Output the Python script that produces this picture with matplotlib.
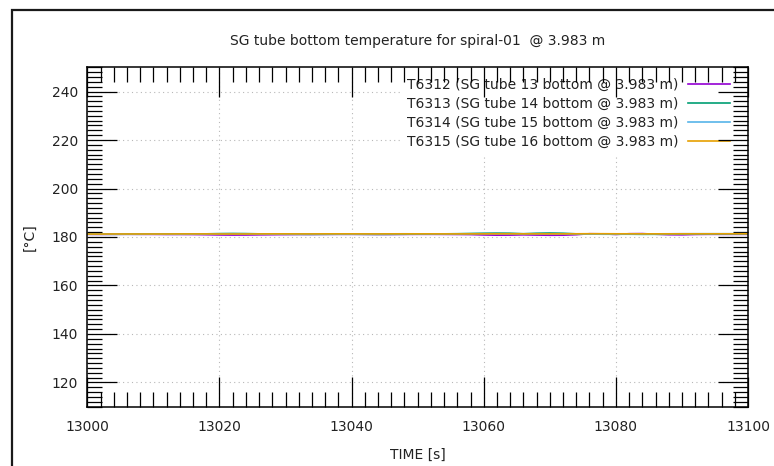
import matplotlib
matplotlib.use("Agg")
import matplotlib.pyplot as plt
from matplotlib.patches import Rectangle
from matplotlib.ticker import MultipleLocator
import numpy as np

plt.rcParams['font.family'] = ['DejaVu Sans']

# --- data -------------------------------------------------------------
time_s = list(range(13000, 13101, 2))

t6312 = [181.10, 181.08, 181.10, 181.12, 181.10, 181.08, 181.05, 181.05, 181.02, 180.95,
         180.85, 180.80, 180.82, 180.90, 180.95, 181.00, 181.05, 181.05, 181.08, 181.10,
         181.10, 181.08, 181.05, 181.05, 181.08, 181.10, 181.10, 181.08, 181.05, 181.00,
         180.85, 180.75, 180.78, 180.90, 180.80, 180.72, 180.75, 180.95, 181.35, 181.30,
         181.05, 181.35, 181.40, 181.15, 180.95, 180.90, 181.05, 181.10, 181.10, 181.10,
         181.10]
t6313 = [181.15, 181.15, 181.12, 181.15, 181.15, 181.18, 181.20, 181.20, 181.25, 181.30,
         181.40, 181.45, 181.40, 181.30, 181.20, 181.15, 181.12, 181.10, 181.12, 181.15,
         181.15, 181.12, 181.10, 181.12, 181.15, 181.20, 181.25, 181.30, 181.35, 181.45,
         181.55, 181.60, 181.55, 181.35, 181.55, 181.65, 181.55, 181.30, 181.20, 181.15,
         181.15, 181.15, 181.10, 181.12, 181.15, 181.20, 181.25, 181.25, 181.30, 181.30,
         181.30]
t6314 = [181.20, 181.18, 181.20, 181.22, 181.20, 181.18, 181.15, 181.15, 181.18, 181.20,
         181.22, 181.25, 181.22, 181.20, 181.18, 181.20, 181.22, 181.25, 181.25, 181.22,
         181.20, 181.22, 181.25, 181.30, 181.32, 181.30, 181.28, 181.25, 181.25, 181.30,
         181.35, 181.35, 181.30, 181.28, 181.32, 181.35, 181.30, 181.25, 181.20, 181.20,
         181.22, 181.25, 181.25, 181.30, 181.32, 181.35, 181.35, 181.35, 181.35, 181.35,
         181.35]
t6315 = [181.22, 181.22, 181.25, 181.25, 181.25, 181.25, 181.25, 181.28, 181.28, 181.28,
         181.25, 181.25, 181.25, 181.28, 181.30, 181.30, 181.28, 181.28, 181.30, 181.30,
         181.30, 181.28, 181.28, 181.30, 181.30, 181.30, 181.30, 181.28, 181.28, 181.30,
         181.30, 181.32, 181.32, 181.30, 181.30, 181.30, 181.30, 181.32, 181.35, 181.35,
         181.32, 181.32, 181.30, 181.30, 181.30, 181.32, 181.32, 181.32, 181.32, 181.32,
         181.32]

series_labels = [
    "T6312 (SG tube 13 bottom @ 3.983 m)",
    "T6313 (SG tube 14 bottom @ 3.983 m)",
    "T6314 (SG tube 15 bottom @ 3.983 m)",
    "T6315 (SG tube 16 bottom @ 3.983 m)",
]
series_colors = ["#9400d3", "#009e73", "#56b4e9", "#e69f00"]

x_ticks = [13000, 13020, 13040, 13060, 13080, 13100]
y_ticks = [120, 140, 160, 180, 200, 220, 240]

# --- figure -----------------------------------------------------------
fig = plt.figure(figsize=(7.74, 4.66), dpi=100)
ax = fig.add_axes([87.3 / 774, 1 - 406.7 / 466, (748 - 87.3) / 774, (406.7 - 67.3) / 466])

# outer window frame
fig.patches.append(Rectangle((11.5 / 774, -0.2), 1.2, 1.2 - 10 / 466,
                             transform=fig.transFigure, fill=False,
                             edgecolor="#1a1a1a", linewidth=1.6))

# dotted grid at the major ticks, kept underneath the key
for xv in x_ticks:
    ax.axvline(xv, color="#b8b8b8", linestyle=(0, (1, 3)), linewidth=0.8, zorder=0.5)
for yv in y_ticks:
    ax.axhline(yv, color="#b8b8b8", linestyle=(0, (1, 3)), linewidth=0.8, zorder=0.5)

for vals, lab, col in zip([t6312, t6313, t6314, t6315], series_labels, series_colors):
    ax.plot(time_s, vals, color=col, linewidth=1.2, label=lab, zorder=3)

ax.set_xlim(13000, 13100)
ax.set_ylim(110, 250)
ax.set_xticks(x_ticks)
ax.set_yticks(y_ticks)
ax.xaxis.set_minor_locator(MultipleLocator(2))
ax.yaxis.set_minor_locator(MultipleLocator(2))

ax.tick_params(which="both", direction="in", top=True, right=True,
               colors="black", labelcolor="#222222", labelsize=10, width=0.9)
ax.tick_params(which="major", length=21.6)
ax.tick_params(which="minor", length=10.8)
ax.tick_params(axis="x", which="major", pad=9.4)
ax.tick_params(axis="y", which="major", pad=6.5)

# ticks are drawn above the key box
ax.xaxis.set_zorder(2.5)
ax.yaxis.set_zorder(2.5)

for sp in ax.spines.values():
    sp.set_linewidth(1.1)
    sp.set_color("black")
    sp.set_zorder(4)

ax.set_xlabel("TIME [s]", fontsize=10, color="#222222", labelpad=10)
ax.set_ylabel("[\u00b0C]", fontsize=10, color="#222222", labelpad=11)
ax.set_title("SG tube bottom temperature for spiral-01  @ 3.983 m",
             fontsize=10, color="#222222", pad=16)

leg = ax.legend(loc="upper right", bbox_to_anchor=(0.981, 0.985),
                borderaxespad=0, borderpad=0.4, markerfirst=False,
                handlelength=3.0, handletextpad=0.72, labelspacing=0.36,
                frameon=True, fancybox=False, framealpha=1.0,
                facecolor="white", edgecolor="none", fontsize=10)
for txt in leg.get_texts():
    txt.set_color("#222222")
for ln in leg.get_lines():
    ln.set_linewidth(1.2)
leg.set_zorder(2.2)

fig.savefig("out.png", dpi=100)
